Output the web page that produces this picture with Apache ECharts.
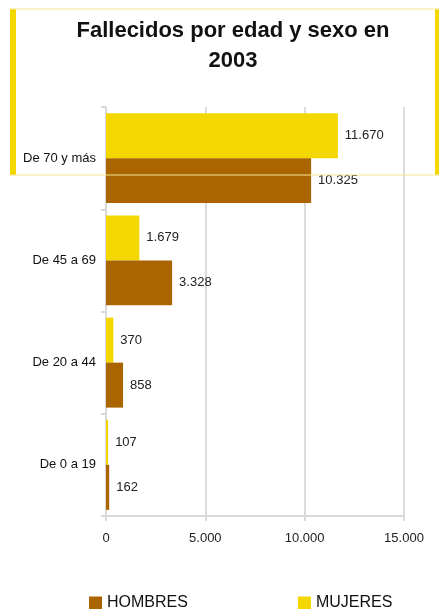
<!DOCTYPE html>
<html><head><meta charset="utf-8">
<script src="https://cdn.jsdelivr.net/npm/echarts@6/dist/echarts.min.js"></script>
<style>html,body{margin:0;padding:0;background:#fff}#c{width:439px;height:609px}</style>
</head><body><div id="c"></div>
<script>
const categories = ['De 0 a 19', 'De 20 a 44', 'De 45 a 69', 'De 70 y más'];
const hombres = [162, 858, 3328, 10325];
const mujeres = [107, 370, 1679, 11670];
const xTicks = [0, 5000, 10000, 15000];
const titleText = 'Fallecidos por edad y sexo en\n2003';

const YEL = '#F5D700', BRN = '#AA6500', PALE = '#F3E593';
function fmt(v){ return String(v).replace(/\B(?=(\d{3})+(?!\d))/g, '.'); }

const chart = echarts.init(document.getElementById('c'), null, {renderer:'canvas'});
chart.setOption({
  animation:false,
  backgroundColor:'#fff',
  textStyle:{fontFamily:'Liberation Sans, Arial, sans-serif'},
  grid:{left:106, right:35, top:107, bottom:93},
  legend:{
    left:89, top:595, padding:0, itemWidth:13, itemHeight:13, itemGap:110,
    icon:'rect',
    textStyle:{fontSize:16, color:'#111', fontFamily:'Liberation Sans, Arial, sans-serif'},
    data:['HOMBRES','MUJERES']
  },
  xAxis:{
    type:'value', min:xTicks[0], max:xTicks[xTicks.length-1], interval:5000,
    axisLine:{show:true, lineStyle:{color:'#d9d9d9', width:2}},
    axisTick:{show:true, length:5, lineStyle:{color:'#d9d9d9', width:2}},
    splitLine:{show:true, lineStyle:{color:'#dcdcdc', width:2}},
    axisLabel:{fontSize:13, color:'#222', margin:16, formatter:v=>fmt(v)}
  },
  yAxis:{
    type:'category', data:categories,
    axisLine:{show:true, lineStyle:{color:'#d9d9d9', width:2}},
    axisTick:{show:true, length:5, lineStyle:{color:'#d9d9d9', width:2}},
    axisLabel:{fontSize:13, color:'#111', margin:10}
  },
  series:[
    {name:'MUJERES', type:'bar', data:mujeres, itemStyle:{color:YEL},
     barGap:'0%', barCategoryGap:'12%',
     label:{show:true, position:'right', distance:7, fontSize:13, color:'#222', formatter:p=>fmt(p.value)}},
    {name:'HOMBRES', type:'bar', data:hombres, itemStyle:{color:BRN},
     barGap:'0%', barCategoryGap:'12%',
     label:{show:true, position:'right', distance:7, fontSize:13, color:'#222', formatter:p=>fmt(p.value)}}
  ],
  graphic:[
    {type:'rect', z:100, shape:{x:10, y:9, width:6, height:166}, style:{fill:YEL}},
    {type:'rect', z:100, shape:{x:435, y:9, width:4, height:166}, style:{fill:YEL}},
    {type:'rect', z:100, shape:{x:10, y:8.5, width:429, height:1}, style:{fill:PALE}},
    {type:'rect', z:100, shape:{x:10, y:174.5, width:429, height:1}, style:{fill:PALE}},
    {type:'text', z:100, x:233, y:16, style:{text:titleText, fill:'#111', font:'bold 22px "Liberation Sans", Arial, sans-serif', align:'center', verticalAlign:'top', lineHeight:30}}
  ]
});
</script></body></html>
